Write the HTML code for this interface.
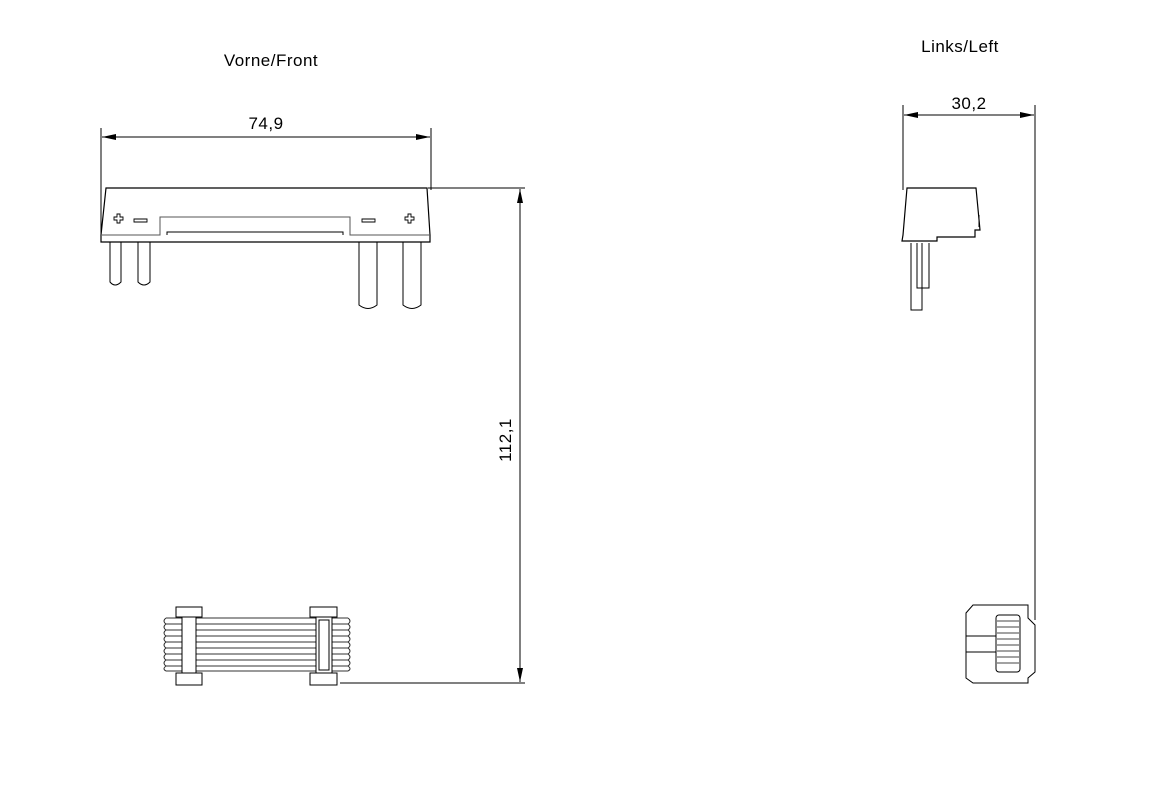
<!DOCTYPE html>
<html><head><style>body{margin:0;background:#fff}svg{display:block}text{font-family:"Liberation Sans Narrow","Liberation Sans",sans-serif;font-size:17px;fill:#000;letter-spacing:0.5px}</style></head><body>
<svg width="1173" height="802" viewBox="0 0 1173 802" fill="none" stroke="#000" stroke-width="1">
<defs><marker id="a" markerWidth="14" markerHeight="6" refX="14" refY="3" orient="auto" markerUnits="userSpaceOnUse"><path d="M0,0L14,3L0,6z" fill="#000" stroke="none"/></marker></defs>
<text x="271" y="66" text-anchor="middle" stroke="none">Vorne/Front</text>
<text x="960" y="52" text-anchor="middle" stroke="none">Links/Left</text>
<line x1="101" y1="128" x2="101" y2="240"/><line x1="431" y1="128" x2="431" y2="190"/>
<line x1="266" y1="137" x2="102" y2="137" marker-end="url(#a)"/><line x1="266" y1="137" x2="430" y2="137" marker-end="url(#a)"/>
<text x="266" y="129" text-anchor="middle" stroke="none">74,9</text>
<line x1="428" y1="188" x2="525" y2="188"/><line x1="340" y1="683" x2="525" y2="683"/>
<line x1="520" y1="435" x2="520" y2="189" marker-end="url(#a)"/><line x1="520" y1="435" x2="520" y2="682" marker-end="url(#a)"/>
<text transform="translate(511,440) rotate(-90)" text-anchor="middle" stroke="none">112,1</text>
<path d="M106,188L427,188L430,235L430,242L101,242L101,235Z" stroke-width="1.2"/>
<path d="M102,235L160,235L160,217L350,217L350,235L430,235" stroke="#555"/>
<path d="M167,235L167,232L343,232L343,235"/>
<g stroke-width="0.9">
<path d="M114,217h3v-3h3v3h3v3h-3v3h-3v-3h-3z"/>
<path d="M134,219h13v3h-13z"/>
<path d="M362,219h13v3h-13z"/>
<path d="M405,217h3v-3h3v3h3v3h-3v3h-3v-3h-3z"/>
</g>
<path d="M110,242v40q5,6 11,0v-40M138,242v40q6,6 12,0v-40M359,242v63q9,7 18,0v-63M403,242v63q9,7 18,0v-63"/>
<rect x="176" y="607" width="26" height="10"/><rect x="310" y="607" width="27" height="10"/>
<rect x="176" y="673" width="26" height="12"/><rect x="310" y="673" width="27" height="12"/>
<g stroke="#333"><path d="M166,618h182M166,624h182M166,630h182M166,636h182M166,642h182M166,648h182M166,654h182M166,660h182M166,666h182M166,671h182"/>
<path d="M166,618q-4,3 0,6q-4,3 0,6q-4,3 0,6q-4,3 0,6q-4,3 0,6q-4,3 0,6q-4,3 0,6q-4,3 0,6q-4,3 0,5M348,618q4,3 0,6q4,3 0,6q4,3 0,6q4,3 0,6q4,3 0,6q4,3 0,6q4,3 0,6q4,3 0,6q4,3 0,5"/></g>
<rect x="182" y="617" width="14" height="56" fill="#fff"/><rect x="316" y="617" width="16" height="56" fill="#fff"/><rect x="319" y="620" width="10" height="50"/>
<line x1="903" y1="105" x2="903" y2="190"/><line x1="1035" y1="105" x2="1035" y2="620"/>
<line x1="969" y1="115" x2="904" y2="115" marker-end="url(#a)"/><line x1="969" y1="115" x2="1034" y2="115" marker-end="url(#a)"/>
<text x="969" y="109" text-anchor="middle" stroke="none">30,2</text>
<path d="M907,188L976,188L980,230L975,230L975,237L937,237L937,241L902,241L903,235Z" stroke-width="1.2"/>
<path d="M979,215v12"/>
<path d="M911,243v67h11v-67M917,243v45h12v-45"/>
<path d="M973,605L1028,605L1028,618L1035,625L1035,672L1028,678L1028,683L973,683L966,678L966,613Z"/>
<path d="M966,636H996M966,652H996"/>
<rect x="996" y="615" width="24" height="57" rx="3"/>
<path d="M997,621h22M997,627h22M997,633h22M997,639h22M997,645h22M997,651h22M997,657h22M997,663h22" stroke="#444"/>
</svg></body></html>
